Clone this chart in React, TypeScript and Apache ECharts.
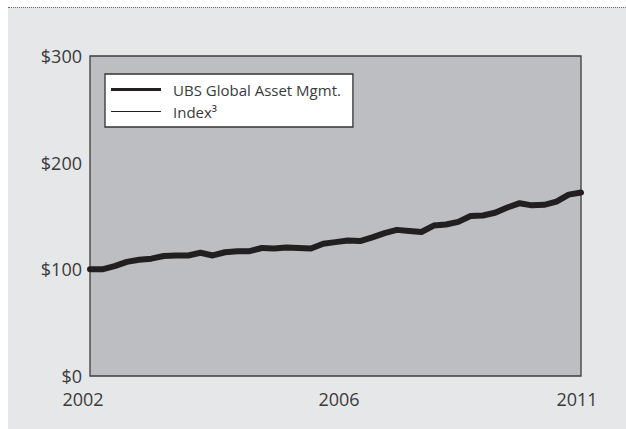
import React, { useEffect, useRef } from "react";
import * as echarts from "echarts";

// Quarterly growth of $100 (index 0 = start of 2002, index 40 = end of 2011)
const ubsValues = [
  100, 100, 103, 107, 109, 110, 112.5, 113, 113, 115.5,
  113, 116, 117, 117, 120, 119.5, 120.5, 120, 119.5, 124,
  125.5, 127, 126.5, 130, 134, 137, 136, 135, 141, 142,
  144.5, 150, 150.5, 153, 158, 162, 160, 160.5, 163.5, 170, 172,
];
const indexValues = [
  100, 100, 103, 107, 109, 110, 112.5, 113, 113, 115.5,
  113, 116, 117, 117, 120, 119.5, 120.5, 120, 119.5, 124,
  125.5, 127, 126.5, 130, 134, 137, 136, 135, 141, 142,
  144.5, 150, 150.5, 153, 158, 162, 160, 160.5, 163.5, 170, 172,
];
const xTickLabels: Record<number, string> = { 0: "2002", 20: "2006", 40: "2011" };
const yTicks = [0, 100, 200, 300];
const seriesNames = ["UBS Global Asset Mgmt.", "Index³"];

const FONT = "'Open Sans', 'Noto Sans', sans-serif";
const TEXT = "#3a3a3a";
const INK = "#231f20";

export default function App() {
  const ref = useRef<HTMLDivElement>(null);
  useEffect(() => {
    if (!ref.current) return;
    const chart = echarts.init(ref.current, undefined, { renderer: "svg" });
    chart.setOption({
      animation: false,
      grid: {
        left: 82,
        top: 48,
        width: 491,
        height: 320,
        show: true,
        backgroundColor: "#bdbec1",
        borderColor: "#3d3d3d",
        borderWidth: 1.3,
        containLabel: false,
      },
      legend: {
        orient: "vertical",
        left: 97,
        top: 66,
        padding: [8, 12, 8, 6],
        backgroundColor: "#ffffff",
        borderColor: "#333333",
        borderWidth: 1.3,
        borderRadius: 0,
        itemWidth: 50,
        itemHeight: 14,
        itemGap: 7,
        selectedMode: false,
        textStyle: { fontFamily: FONT, fontSize: 15, color: TEXT, padding: [0, 0, 0, 7] },
        data: [
          { name: seriesNames[0], icon: "path://M0 0H50V3H0Z" },
          { name: seriesNames[1], icon: "path://M0 0H50V1H0Z" },
        ],
      },
      xAxis: {
        type: "value",
        min: 0,
        max: 40,
        interval: 20,
        axisLine: { show: false },
        axisTick: { show: false },
        splitLine: { show: false },
        axisLabel: {
          margin: 14,
          fontFamily: FONT,
          fontSize: 18,
          color: TEXT,
          formatter: (v: number) => {
            const t = xTickLabels[v] ?? "";
            if (v === 0) return `{l|${t}}`;
            if (v === 20) return `{m|${t}}`;
            return `{r|${t}}`;
          },
          rich: {
            l: { fontFamily: FONT, fontSize: 18, color: TEXT, padding: [0, 14, 0, 0] },
            m: { fontFamily: FONT, fontSize: 18, color: TEXT, padding: [0, 0, 0, 7] },
            r: { fontFamily: FONT, fontSize: 18, color: TEXT, padding: [0, 8, 0, 0] },
          },
        },
      },
      yAxis: {
        type: "value",
        min: yTicks[0],
        max: yTicks[yTicks.length - 1],
        interval: 100,
        axisLine: { show: false },
        axisTick: { show: false },
        splitLine: { show: false },
        axisLabel: {
          margin: 8,
          fontFamily: FONT,
          fontSize: 18,
          color: TEXT,
          formatter: (v: number) => `$${v}`,
        },
      },
      series: [
        {
          name: seriesNames[1],
          type: "line",
          data: indexValues.map((v, i) => [i, v]),
          showSymbol: false,
          symbol: "none",
          color: INK,
          lineStyle: { width: 1, color: INK },
          z: 2,
        },
        {
          name: seriesNames[0],
          type: "line",
          data: ubsValues.map((v, i) => [i, v]),
          showSymbol: false,
          symbol: "none",
          color: INK,
          lineStyle: { width: 6, color: INK, join: "round", cap: "round" },
          z: 3,
        },
      ],
    });
    return () => chart.dispose();
  }, []);
  return (
    <div
      style={{
        position: "fixed",
        left: 8,
        top: 7,
        width: 618,
        height: 422,
        background: "#e6e7e8",
        borderTop: "1px dotted #6d6e70",
        boxSizing: "border-box",
      }}
    >
      <div ref={ref} style={{ width: 618, height: 421 }} />
    </div>
  );
}
